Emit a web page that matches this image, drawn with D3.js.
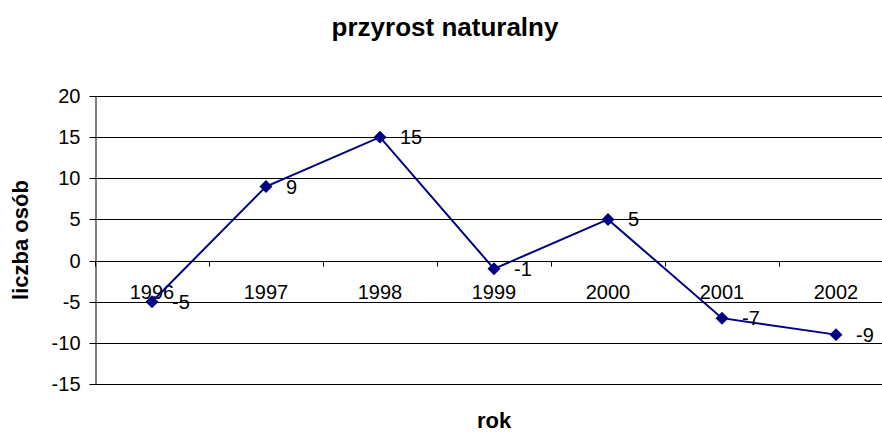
<!DOCTYPE html>
<html>
<head>
<meta charset="utf-8">
<script src="https://cdn.jsdelivr.net/npm/d3@7"></script>
<style>
  html, body { margin: 0; padding: 0; background: #fff; overflow: hidden; }
  svg { display: block; font-family: "Liberation Sans", Arial, sans-serif; }
</style>
</head>
<body>
<svg id="chart" width="882" height="435"></svg>
<script>
const years = ["1996", "1997", "1998", "1999", "2000", "2001", "2002"];
const values = [-5, 9, 15, -1, 5, -7, -9];
const yTicks = [-15, -10, -5, 0, 5, 10, 15, 20];
const titleText = "przyrost naturalny";
const xTitle = "rok";
const yTitle = "liczba osób";

const svg = d3.select("#chart");
const data = years.map((yr, i) => ({ year: yr, value: values[i] }));

const plotL = 95, plotR = 893, plotT = 96, plotB = 384;
const x = d3.scaleBand().domain(years).range([plotL, plotR]);
const y = d3.scaleLinear().domain([-15, 20]).range([plotB, plotT]);

// gridlines
svg.append("g").selectAll("line").data(yTicks).join("line")
  .attr("x1", plotL).attr("x2", plotR)
  .attr("y1", d => Math.round(y(d)) + 0.5).attr("y2", d => Math.round(y(d)) + 0.5)
  .attr("stroke", "#000").attr("stroke-width", 1);

// y axis
const yAxis = d3.axisLeft(y).tickValues(yTicks).tickFormat(d => String(d))
  .tickSize(6).tickPadding(9).tickSizeOuter(0);
const gy = svg.append("g").attr("transform", `translate(${plotL + 0.5},0)`).call(yAxis);
gy.select(".domain").attr("stroke", "#000");
gy.selectAll(".tick line").attr("stroke", "#000");
gy.selectAll(".tick text").attr("font-size", 20).attr("fill", "#000")
  .attr("font-family", "Liberation Sans, Arial, sans-serif");
gy.selectAll(".tick").attr("transform", d => `translate(0,${Math.round(y(d)) + 0.5})`);

// x axis at zero
const y0 = Math.round(y(0)) + 0.5;
const gx = svg.append("g").attr("transform", `translate(0,${y0})`);
gx.append("line").attr("x1", plotL).attr("x2", plotR).attr("stroke", "#000");
const boundaries = years.map(d => x(d)).concat([plotR]);
gx.selectAll("line.tk").data(boundaries).join("line").attr("class", "tk")
  .attr("x1", d => Math.round(d) + 0.5).attr("x2", d => Math.round(d) + 0.5)
  .attr("y1", 0).attr("y2", 5).attr("stroke", "#000");
gx.selectAll("text").data(years).join("text")
  .attr("x", d => x(d) + x.bandwidth() / 2)
  .attr("y", 37)
  .attr("text-anchor", "middle")
  .attr("font-size", 20).attr("fill", "#000")
  .text(d => d);

// line
const line = d3.line().x(d => x(d.year) + x.bandwidth() / 2).y(d => y(d.value));
svg.append("path").datum(data).attr("d", line)
  .attr("fill", "none").attr("stroke", "#000080").attr("stroke-width", 2);

// markers
const diamond = d3.symbol().type(d3.symbolSquare).size(84);
svg.append("g").selectAll("path").data(data).join("path")
  .attr("d", diamond)
  .attr("transform", d => `translate(${x(d.year) + x.bandwidth() / 2},${y(d.value)}) rotate(45)`)
  .attr("fill", "#000080");

// data labels
svg.append("g").selectAll("text").data(data).join("text")
  .attr("x", d => x(d.year) + x.bandwidth() / 2 + 20)
  .attr("y", d => y(d.value) + 7)
  .attr("font-size", 20).attr("fill", "#000")
  .text(d => String(d.value));

// title
svg.append("text").attr("x", 445).attr("y", 36).attr("text-anchor", "middle")
  .attr("font-size", 26).attr("font-weight", "bold").text(titleText);

// x title
svg.append("text").attr("x", (plotL + plotR) / 2).attr("y", 428).attr("text-anchor", "middle")
  .attr("font-size", 22).attr("font-weight", "bold").text(xTitle);

// y title
svg.append("text").attr("transform", `translate(28,${(plotT + plotB) / 2}) rotate(-90)`)
  .attr("text-anchor", "middle")
  .attr("font-size", 22).attr("font-weight", "bold").text(yTitle);
</script>
</body>
</html>
